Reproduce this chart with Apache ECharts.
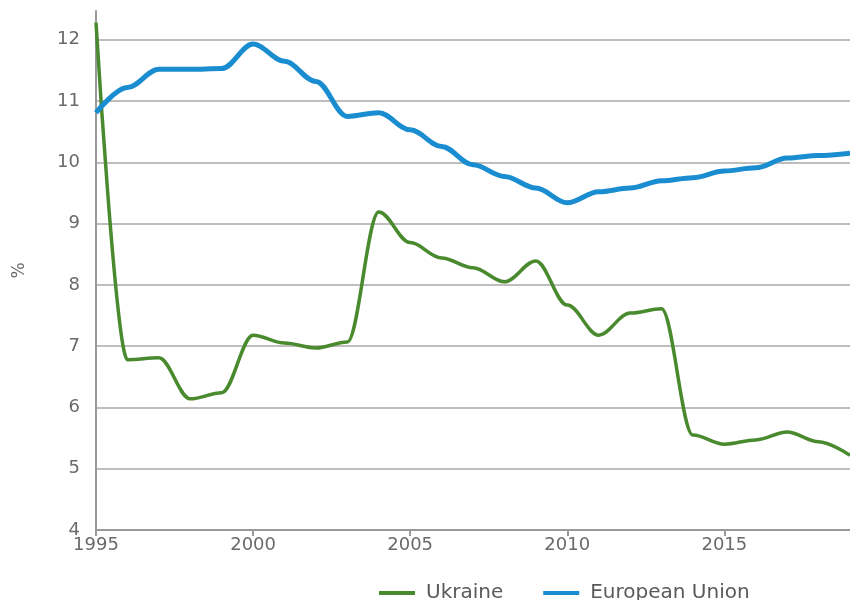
<!DOCTYPE html>
<html>
<head>
<meta charset="utf-8">
<script src="https://cdn.jsdelivr.net/npm/echarts@6/dist/echarts.min.js"></script>
<style>
  html, body { margin: 0; padding: 0; background: #fff; }
  #chart { width: 850px; height: 600px; }
</style>
</head>
<body>
<div id="chart"></div>
<script>
// Ukraine vs EU, share in % (1995–2019)
const YEARS = [1995, 1996, 1997, 1998, 1999, 2000, 2001, 2002, 2003, 2004, 2005, 2006,
  2007, 2008, 2009, 2010, 2011, 2012, 2013, 2014, 2015, 2016, 2017, 2018, 2019];
const UKRAINE = [12.28, 6.78, 6.81, 6.14, 6.24, 7.18, 7.05, 6.97, 7.07, 9.19, 8.69, 8.44,
  8.28, 8.05, 8.39, 7.67, 7.18, 7.54, 7.61, 5.55, 5.40, 5.47, 5.60, 5.44, 5.22];
const EU = [10.81, 11.22, 11.52, 11.52, 11.53, 11.93, 11.65, 11.32, 10.75, 10.81, 10.53, 10.26,
  9.96, 9.77, 9.58, 9.34, 9.52, 9.58, 9.70, 9.75, 9.86, 9.91, 10.07, 10.11, 10.15];
const X_TICKS = [1995, 2000, 2005, 2010, 2015];
const SERIES_NAMES = ["Ukraine", "European Union"];
const Y_NAME = "%";

const pairs = (vals) => YEARS.map((y, i) => [y, vals[i]]);
const FONT = "DejaVu Sans";

const chart = echarts.init(document.getElementById("chart"));
chart.setOption({
  animation: false,
  grid: { left: 96, right: 0, top: 11, bottom: 70, outerBoundsMode: "none", containLabel: false },
  legend: {
    data: SERIES_NAMES,
    left: 374, top: 578,
    itemWidth: 36, itemHeight: 4, itemGap: 40,
    icon: "rect",
    textStyle: { fontFamily: FONT, fontSize: 20, color: "#5a5a5a", padding: [0, 0, 0, 6] },
  },
  xAxis: {
    type: "value", min: 1995, max: 2019, interval: 5,
    axisLine: { lineStyle: { color: "#9a9a9a", width: 2 } },
    axisTick: { show: true, length: 6, customValues: X_TICKS, lineStyle: { color: "#9a9a9a", width: 2 } },
    axisLabel: { fontFamily: FONT, fontSize: 18, color: "#6a6a6a", margin: 6,
      customValues: X_TICKS, formatter: (v) => String(v) },
    splitLine: { show: false },
  },
  yAxis: {
    type: "value", min: 4, max: 12.47, interval: 1,
    name: Y_NAME, nameLocation: "middle", nameGap: 68, nameRotate: 90,
    nameTextStyle: { fontFamily: FONT, fontSize: 17, color: "#6a6a6a" },
    axisLine: { show: true, lineStyle: { color: "#9a9a9a", width: 2 } },
    axisTick: { show: false },
    axisLabel: { fontFamily: FONT, fontSize: 18, color: "#6a6a6a", margin: 16, showMaxLabel: false },
    splitLine: { show: true, showMaxLine: false, showMinLine: false, lineStyle: { color: "#a8a8a8", width: 1.5 } },
  },
  series: [
    { name: SERIES_NAMES[0], type: "line", data: pairs(UKRAINE), showSymbol: false,
      smooth: 0.35, smoothMonotone: "x",
      lineStyle: { color: "#4a8a2e", width: 3.5 }, itemStyle: { color: "#4a8a2e" }, z: 2 },
    { name: SERIES_NAMES[1], type: "line", data: pairs(EU), showSymbol: false,
      smooth: 0.35, smoothMonotone: "x",
      lineStyle: { color: "#1a8dd0", width: 5 }, itemStyle: { color: "#1a8dd0" }, z: 3 },
  ],
});
</script>
</body>
</html>
